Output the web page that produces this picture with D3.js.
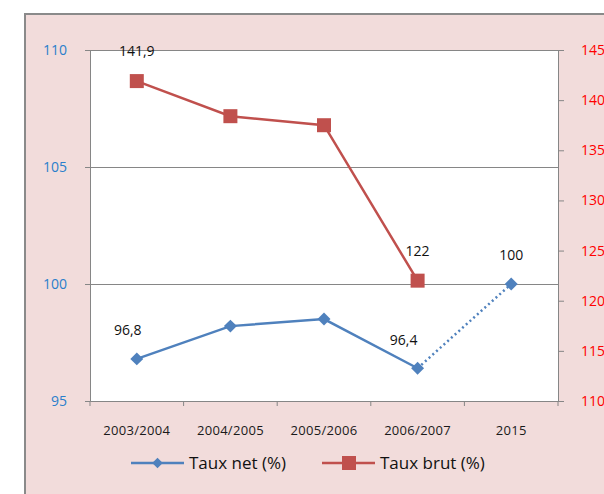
<!DOCTYPE html>
<html>
<head>
<meta charset="utf-8">
<script src="https://cdn.jsdelivr.net/npm/d3@7"></script>
<style>
  html, body { margin: 0; padding: 0; background: #ffffff; }
  svg { display: block; }
  text { font-family: "Open Sans", "Liberation Sans", sans-serif; }
</style>
</head>
<body>
<svg id="chart" width="604" height="494"></svg>
<script>
// Data
const categories = ["2003/2004", "2004/2005", "2005/2006", "2006/2007", "2015"];
const tauxNet = [96.8, 98.2, 98.5, 96.4, 100];
const tauxBrut = [141.9, 138.4, 137.5, 122, null];
const leftTicks = [95, 100, 105, 110];
const rightTicks = [110, 115, 120, 125, 130, 135, 140, 145];
// Points that carry a value label
const netLabels = [
  { i: 0, text: "96,8" },
  { i: 3, text: "96,4" },
  { i: 4, text: "100" }
];
const brutLabels = [
  { i: 0, text: "141,9" },
  { i: 3, text: "122" }
];

const blue = "#4F81BD", red = "#C0504D";
const svg = d3.select("#chart");

// Outer chart frame
svg.append("rect").attr("x", 25).attr("y", 14).attr("width", 600).attr("height", 500)
  .attr("fill", "#F2DCDB").attr("stroke", "#8a8a8a").attr("stroke-width", 2);

const plot = { left: 90, right: 558, top: 50, bottom: 401 };

const x = d3.scaleBand().domain(categories).range([plot.left, plot.right]);
const yL = d3.scaleLinear().domain([95, 110]).range([plot.bottom, plot.top]);
const yR = d3.scaleLinear().domain([110, 145]).range([plot.bottom, plot.top]);

// Plot area
svg.append("rect").attr("x", plot.left).attr("y", plot.top)
  .attr("width", plot.right - plot.left).attr("height", plot.bottom - plot.top)
  .attr("fill", "#ffffff");

// Horizontal gridlines from the left axis
svg.append("g").selectAll("line").data(leftTicks.slice(1)).join("line")
  .attr("x1", plot.left).attr("x2", plot.right)
  .attr("y1", d => yL(d)).attr("y2", d => yL(d))
  .attr("stroke", "#868686").attr("stroke-width", 1).attr("shape-rendering", "crispEdges");

// Left axis
const gL = svg.append("g").attr("transform", `translate(${plot.left},0)`)
  .call(d3.axisLeft(yL).tickValues(leftTicks).tickSize(5).tickPadding(18).tickFormat(d3.format("d")));
gL.select(".domain").attr("stroke", "#868686");
gL.selectAll(".tick line").attr("stroke", "#868686");
gL.selectAll(".tick text").attr("fill", "#2A7FCB").attr("font-size", 14)
  .attr("font-family", "'Open Sans', sans-serif");

// Right axis
const gR = svg.append("g").attr("transform", `translate(${plot.right},0)`)
  .call(d3.axisRight(yR).tickValues(rightTicks).tickSize(6).tickPadding(17).tickFormat(d3.format("d")));
gR.select(".domain").attr("stroke", "#868686");
gR.selectAll(".tick line").attr("stroke", "#868686");
gR.selectAll(".tick text").attr("fill", "#FF0000").attr("font-size", 14)
  .attr("font-family", "'Open Sans', sans-serif");

// Bottom axis: ticks at category boundaries
const gB = svg.append("g").attr("transform", `translate(0,${plot.bottom})`)
  .call(d3.axisBottom(x).tickSize(0).tickPadding(25));
gB.select(".domain").attr("stroke", "#868686");
gB.selectAll(".tick text").attr("fill", "#1a1a1a").attr("font-size", 13)
  .attr("letter-spacing", 0.3)
  .attr("font-family", "'Open Sans', sans-serif");
const bounds = categories.map(c => x(c)).concat([x(categories[categories.length - 1]) + x.bandwidth()]);
svg.append("g").selectAll("line").data(bounds).join("line")
  .attr("x1", d => d).attr("x2", d => d)
  .attr("y1", plot.bottom).attr("y2", plot.bottom + 5)
  .attr("stroke", "#868686");

const cx = i => x(categories[i]) + x.bandwidth() / 2;

// Taux brut line (right axis)
const brutPts = tauxBrut.map((v, i) => ({ v, i })).filter(d => d.v != null);
svg.append("path").datum(brutPts)
  .attr("fill", "none").attr("stroke", red).attr("stroke-width", 2.5)
  .attr("d", d3.line().x(d => cx(d.i)).y(d => yR(d.v)));
svg.append("g").selectAll("rect").data(brutPts).join("rect")
  .attr("x", d => cx(d.i) - 7).attr("y", d => yR(d.v) - 7)
  .attr("width", 14).attr("height", 14).attr("fill", red);

// Taux net line (left axis): solid for yearly values, dotted toward 2015
const netPts = tauxNet.map((v, i) => ({ v, i }));
const netLine = d3.line().x(d => cx(d.i)).y(d => yL(d.v));
svg.append("path").datum(netPts.slice(0, 4))
  .attr("fill", "none").attr("stroke", blue).attr("stroke-width", 2.5)
  .attr("d", netLine);
svg.append("path").datum(netPts.slice(3))
  .attr("fill", "none").attr("stroke", blue).attr("stroke-width", 2.5)
  .attr("stroke-dasharray", "2,3")
  .attr("d", netLine);
// Square markers turned 45° give an even diamond
const diamond = d3.symbol().type(d3.symbolSquare).size(84);
svg.append("g").selectAll("path").data(netPts).join("path")
  .attr("transform", d => `translate(${cx(d.i)},${yL(d.v)}) rotate(45)`)
  .attr("d", diamond).attr("fill", blue);

// Value labels
svg.append("g").selectAll("text").data(brutLabels).join("text")
  .attr("x", d => cx(d.i)).attr("y", d => yR(tauxBrut[d.i]) - 25)
  .attr("text-anchor", "middle").attr("font-size", 14).attr("fill", "#111")
  .text(d => d.text);
const netOffsets = { 0: [-9, -24], 3: [-14, -23], 4: [0, -24] };
svg.append("g").selectAll("text").data(netLabels).join("text")
  .attr("x", d => cx(d.i) + netOffsets[d.i][0]).attr("y", d => yL(tauxNet[d.i]) + netOffsets[d.i][1])
  .attr("text-anchor", "middle").attr("font-size", 14).attr("fill", "#111")
  .text(d => d.text);

// Legend
const legend = svg.append("g");
const items = [
  { name: "Taux net (%)", color: blue, shape: "diamond", x: 131 },
  { name: "Taux brut (%)", color: red, shape: "square", x: 322 }
];
const ly = 463;
items.forEach(it => {
  legend.append("line").attr("x1", it.x).attr("x2", it.x + 53)
    .attr("y1", ly).attr("y2", ly).attr("stroke", it.color).attr("stroke-width", 2.5);
  if (it.shape === "diamond") {
    legend.append("path").attr("transform", `translate(${it.x + 26.5},${ly}) rotate(45)`)
      .attr("d", d3.symbol().type(d3.symbolSquare).size(56)).attr("fill", it.color);
  } else {
    legend.append("rect").attr("x", it.x + 20).attr("y", ly - 7)
      .attr("width", 14).attr("height", 14).attr("fill", it.color);
  }
  legend.append("text").attr("x", it.x + 58).attr("y", ly + 6)
    .attr("font-size", 17).attr("fill", "#111").text(it.name);
});
</script>
</body>
</html>
